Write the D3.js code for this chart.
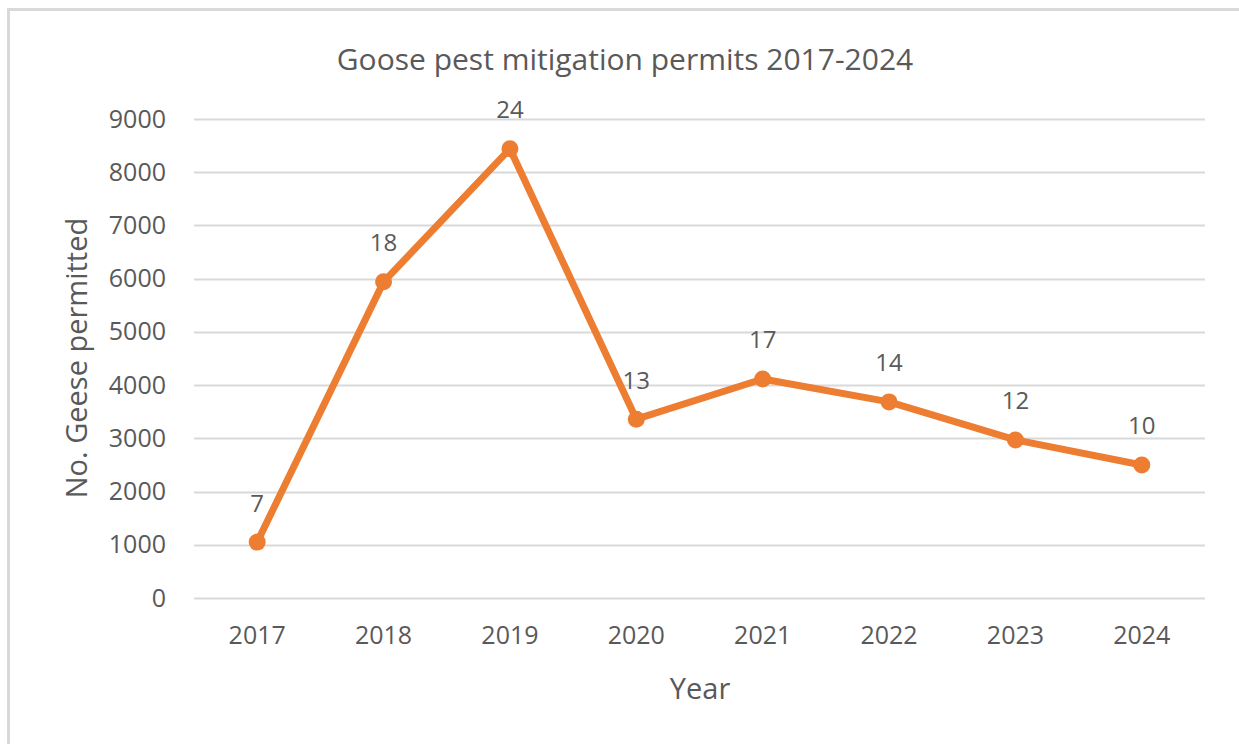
<!DOCTYPE html>
<html>
<head>
<meta charset="utf-8">
<script src="https://cdn.jsdelivr.net/npm/d3@7"></script>
<style>
  html, body { margin: 0; padding: 0; background: #fff; }
  svg { display: block; }
  text { font-family: "Open Sans", "Noto Sans", sans-serif; fill: #595959; }
</style>
</head>
<body>
<svg id="chart" width="1239" height="744"></svg>
<script>
const years = ["2017", "2018", "2019", "2020", "2021", "2022", "2023", "2024"];
const geese = [1050, 5940, 8440, 3360, 4115, 3685, 2970, 2500];
const permits = [7, 18, 24, 13, 17, 14, 12, 10];
const yTicks = [0, 1000, 2000, 3000, 4000, 5000, 6000, 7000, 8000, 9000];

const title = "Goose pest mitigation permits 2017-2024";
const yTitle = "No. Geese permitted";
const xTitle = "Year";

const svg = d3.select("#chart");
const W = 1239, H = 744;

// outer border
svg.append("rect")
  .attr("x", 8.5).attr("y", 9.5)
  .attr("width", W + 10).attr("height", H + 10)
  .attr("fill", "none").attr("stroke", "#d9d9d9").attr("stroke-width", 3);

const plot = { left: 194, right: 1205, top: 119, bottom: 598 };

const x = d3.scaleBand().domain(years).range([plot.left, plot.right]).padding(0);
const y = d3.scaleLinear().domain([0, 9000]).range([plot.bottom, plot.top]);

// gridlines
svg.append("g").selectAll("line").data(yTicks).join("line")
  .attr("x1", plot.left).attr("x2", plot.right)
  .attr("y1", d => Math.round(y(d)) + 0.5).attr("y2", d => Math.round(y(d)) + 0.5)
  .attr("stroke", "#d9d9d9").attr("stroke-width", 2);

// y axis labels
const yAxis = d3.axisLeft(y).tickValues(yTicks).tickFormat(d3.format("d")).tickSize(0).tickPadding(0);
const gy = svg.append("g").attr("transform", `translate(166,0)`).call(yAxis);
gy.select(".domain").remove();
gy.selectAll("text").attr("font-size", 25).attr("fill", "#595959")
  .style("font-family", '"Open Sans", sans-serif');

// x axis labels
const xAxis = d3.axisBottom(x).tickSize(0).tickPadding(0);
const gx = svg.append("g").attr("transform", `translate(0,626)`).call(xAxis);
gx.select(".domain").remove();
gx.selectAll("text").attr("font-size", 25).attr("fill", "#595959")
  .style("font-family", '"Open Sans", sans-serif');

const data = years.map((yr, i) => ({ yr, v: geese[i], p: permits[i] }));
const cx = d => x(d.yr) + x.bandwidth() / 2;

// line
const line = d3.line().x(cx).y(d => y(d.v));
svg.append("path").datum(data)
  .attr("d", line)
  .attr("fill", "none").attr("stroke", "#ed7d31")
  .attr("stroke-width", 7).attr("stroke-linejoin", "round");

// markers
svg.append("g").selectAll("circle").data(data).join("circle")
  .attr("cx", cx).attr("cy", d => y(d.v)).attr("r", 8.5)
  .attr("fill", "#ed7d31");

// data labels
svg.append("g").selectAll("text").data(data).join("text")
  .attr("x", cx).attr("y", d => y(d.v) - 40)
  .attr("text-anchor", "middle").attr("dominant-baseline", "central")
  .attr("font-size", 24).attr("fill", "#404040")
  .text(d => d.p);

// title
svg.append("text").attr("x", 625).attr("y", 58)
  .attr("text-anchor", "middle").attr("dominant-baseline", "central")
  .attr("font-size", 30).attr("fill", "#595959").text(title);

// axis titles
svg.append("text").attr("transform", "translate(75,358) rotate(-90)")
  .attr("text-anchor", "middle").attr("dominant-baseline", "central")
  .attr("font-size", 29).attr("fill", "#595959").text(yTitle);

svg.append("text").attr("x", 700).attr("y", 687)
  .attr("text-anchor", "middle").attr("dominant-baseline", "central")
  .attr("font-size", 29).attr("fill", "#595959").text(xTitle);
</script>
</body>
</html>
